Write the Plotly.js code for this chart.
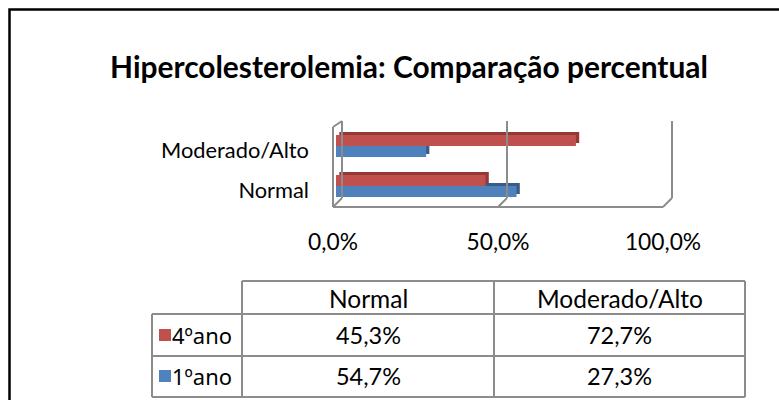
<!DOCTYPE html>
<html><head><meta charset="utf-8">
<script src="https://cdn.plot.ly/plotly-3.0.1.min.js"></script>
<style>html,body{margin:0;padding:0;background:#fff}#chart{width:779px;height:400px}</style>
</head><body><div id="chart"></div>
<script>
// ---- data ----
const TITLE = 'Hipercolesterolemia: Comparação percentual';
const categories = ['Normal', 'Moderado/Alto'];
const seriesNames = ['4ºano', '1ºano'];
const ano4 = [45.3, 72.7];
const ano1 = [54.7, 27.3];
const xTickVals = [0, 50, 100];

// ---- geometry / style ----
const W = 779, H = 400;
const PX0 = 336, PX1 = 666;   // plot area (bar plane) in px
const PY0 = 126, PY1 = 206;
const px = x => x / W;
const py = y => 1 - y / H;
const X = v => PX0 + (PX1 - PX0) * v / 100;
const FAM = 'Lato';
const FAM2 = 'Noto Sans';
const RED = '#C0504D', RED_D = '#953735', BLUE = '#4F81BD', BLUE_D = '#385D8A';
const GRID = '#8C8C8C';
const BARW = 0.275, DY = 0.075, DX = 1;

const ctx = document.createElement('canvas').getContext('2d');
function measure(text, weight, fam, size) {
  ctx.font = weight + ' ' + size + 'px "' + fam + '"';
  return ctx.measureText(text).width;
}
function fit(text, weight, target, fam) {
  return 100 * target / measure(text, weight, fam || FAM, 100);
}
const fmt = v => v.toFixed(1).replace('.', ',') + '%';

const titleSize = fit(TITLE, 'bold', 598);
const ylabSize = fit('Moderado/Alto', 'normal', 148);
const xtickSize = fit('50,0%', 'normal', 63);
const tabHeadSize = fit('Moderado/Alto', 'normal', 166);
const tabValSize = fit('45,3%', 'normal', 65);
const rowLabSize = fit(seriesNames[0], 'normal', 60, FAM2);

// ---- traces ----
const series = [
  {name: seriesNames[1], vals: ano1, col: BLUE, dark: BLUE_D, off: -BARW},
  {name: seriesNames[0], vals: ano4, col: RED, dark: RED_D, off: 0}
];
const traces = [];
series.forEach(s => traces.push({
  type: 'bar', orientation: 'h', y: categories, x: s.vals, base: DX,
  offset: s.off + DY, width: BARW, marker: {color: s.dark, line: {width: 0}},
  hoverinfo: 'skip', showlegend: false
}));
series.forEach(s => traces.push({
  type: 'bar', orientation: 'h', y: categories, x: s.vals, name: s.name,
  offset: s.off, width: BARW, marker: {color: s.col, line: {width: 0}},
  showlegend: false
}));

// ---- wall shapes ----
const ln = {color: GRID, width: 2};
const FX = -3, BX = 6, FY = 207, BY = 198, TOPB = 121, TOPF = 127;
const shapes = [];
function seg(x0, y0, x1, y1, line) {
  shapes.push({type: 'line', xref: 'paper', yref: 'paper', x0: px(x0), y0: py(y0), x1: px(x1), y1: py(y1), line: line || ln});
}
seg(X(0) + FX, FY, X(0) + FX, TOPF);
seg(X(0) + FX, TOPF, X(0) + BX, TOPB);
seg(X(0) + BX, TOPB, X(0) + BX, BY);
seg(X(0) + BX, BY, X(0) + FX, FY);
seg(X(0) + FX, FY, X(100) + FX, FY);
[50, 100].forEach(v => {
  seg(X(v) + BX, TOPB, X(v) + BX, BY);
  seg(X(v) + BX, BY, X(v) + FX, FY);
});
shapes.push({type: 'rect', xref: 'paper', yref: 'paper', x0: px(9.5), y0: py(9.5), x1: 1.05, y1: -0.05,
  line: {color: '#000', width: 2.5}});

// ---- data table ----
const L0 = 152, L1 = 242, L2 = 494, L3 = 745;
const T0 = 281, T1 = 314, T2 = 356, T3 = 397;
const tl = {color: GRID, width: 2};
seg(L1, T0, L3, T0, tl);
[T1, T2, T3].forEach(t => seg(L0, t, L3, t, tl));
[L1, L2, L3].forEach(l => seg(l, T0, l, T3, tl));
seg(L0, T1, L0, T3, tl);

const annotations = [];
function txt(x, y, text, size, anchor, fam) {
  annotations.push({xref: 'paper', yref: 'paper', x: px(x), y: py(y), text: text, showarrow: false,
    xanchor: anchor || 'center', yanchor: 'middle', font: {family: fam || FAM, size: size, color: '#000'}});
}
const colCenters = [(L1 + L2) / 2, (L2 + L3) / 2];
categories.forEach((c, i) => txt(colCenters[i], 298, c, tabHeadSize));
const rows = [{name: seriesNames[0], vals: ano4, col: RED, y: 335},
              {name: seriesNames[1], vals: ano1, col: BLUE, y: 376}];
rows.forEach(r => {
  r.vals.forEach((v, i) => txt(colCenters[i], r.y, fmt(v), tabValSize));
  const tr = L1 - 8;
  txt(tr, r.y, r.name, rowLabSize, 'right', FAM2);
  const tw = measure(r.name, 'normal', FAM2, rowLabSize);
  const sq = tr - tw - 3;
  shapes.push({type: 'rect', xref: 'paper', yref: 'paper', x0: px(sq - 12), x1: px(sq),
    y0: py(r.y + 6), y1: py(r.y - 6), fillcolor: r.col, line: {width: 0}});
});

const layout = {
  width: W, height: H, margin: {l: 0, r: 0, t: 0, b: 0},
  paper_bgcolor: '#fff', plot_bgcolor: 'rgba(0,0,0,0)',
  barmode: 'overlay', separators: ',.', showlegend: false,
  title: {text: TITLE, x: px(409), y: py(68), xanchor: 'center', yanchor: 'middle',
    xref: 'paper', yref: 'paper', font: {family: FAM, size: titleSize, weight: 700, color: '#000'}},
  xaxis: {domain: [px(PX0), px(PX1)], range: [0, 100], tickmode: 'array', tickvals: xTickVals,
    ticktext: xTickVals.map(fmt),
    showgrid: false, zeroline: false, showline: false, ticks: '',
    ticklabelshift: -3, ticklabelstandoff: 20, tickfont: {family: FAM, size: xtickSize, color: '#000'}},
  yaxis: {domain: [py(PY1), py(PY0)], range: [-0.5, 1.5], type: 'category', categoryarray: categories,
    showgrid: false, zeroline: false, showline: false, ticks: '',
    ticklabelstandoff: 26, ticklabelshift: 4, tickfont: {family: FAM, size: ylabSize, color: '#000'}},
  shapes: shapes, annotations: annotations
};
Plotly.newPlot('chart', traces, layout, {displayModeBar: false, staticPlot: true});
</script></body></html>
